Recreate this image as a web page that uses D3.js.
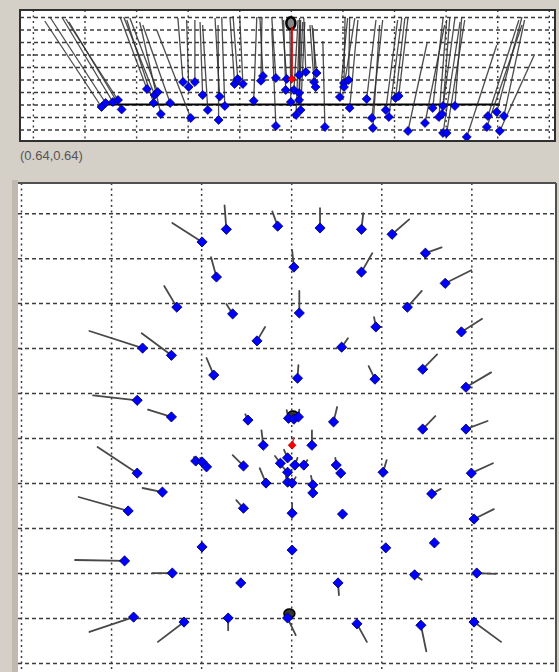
<!DOCTYPE html>
<html><head><meta charset="utf-8">
<script src="https://cdn.jsdelivr.net/npm/d3@7"></script>
<style>html,body{margin:0;padding:0;background:#d4d0c8;} svg{display:block;}</style>
</head><body><svg id="c" width="559" height="672"></svg>
<script>
// ---------- DATA ----------
// Main (plan) view: [x, y, dx, dy]  — point position and displacement vector (grid units)
const planVectors = [
 [-0.99,4.36,-0.33,0.42],[-0.72,4.64,-0.02,0.53],[-0.15,4.71,-0.06,0.33],[-0.83,3.58,-0.06,0.44],
 [-1.27,2.91,-0.14,0.47],[-0.65,2.76,-0.07,0.22],[-0.38,2.16,0.09,0.31],[0.32,4.67,0,0.44],
 [0.78,4.64,0.02,0.36],[1.12,4.53,0.19,0.33],[1.49,4.11,0.18,0.13],[0.03,3.80,-0.02,0.38],
 [0.78,3.69,0.12,0.42],[1.71,3.44,0.29,0.29],[0.09,2.78,0,0.49],[1.29,2.91,0.16,0.36],
 [0.94,2.47,-0.02,0.22],[1.89,2.36,0.23,0.29],[0.56,2.02,0.07,0.20],[-1.65,2.00,-0.59,0.38],
 [-1.33,1.84,-0.33,0.49],[-0.86,1.40,-0.08,0.38],[-1.71,0.84,-0.49,0.11],[-1.33,0.47,-0.26,0.16],
 [-0.48,0.40,-0.03,0.13],[-0.31,-0.16,-0.02,0.33],[-1.06,-0.51,-0.02,0.09],[-0.99,-0.53,-0.02,0.09],
 [-0.94,-0.64,-0.02,0.09],[-1.71,-0.78,-0.44,0.58],[-0.53,-0.62,-0.12,0.24],[-0.28,-1.00,-0.07,0.33],
 [-1.43,-1.20,-0.22,0.09],[-1.81,-1.62,-0.55,0.31],[-0.53,-1.56,-0.08,0.18],[-0.99,-2.42,0,0.04],
 [-1.85,-2.73,-0.55,0.02],[-1.32,-3.00,-0.22,0],[-0.56,-3.22,0,0.04],[-1.75,-3.98,-0.49,-0.33],
 [-1.19,-4.09,-0.29,-0.44],[-0.70,-4.00,0,-0.27],[0.01,-1.67,0,0.22],[0.57,-1.69,0,0.04],
 [2.03,-1.80,0.22,0.22],[0.01,-2.49,0,0.04],[1.05,-2.44,0.02,0.02],[1.59,-2.33,0.02,0],
 [0.52,-3.22,0.01,-0.27],[1.37,-3.04,0.08,-0.11],[2.06,-3.00,0.21,-0.02],[-0.04,-4.00,0.09,-0.38],
 [0.73,-4.13,0.11,-0.40],[1.44,-4.16,0.06,-0.58],[2.03,-4.09,0.30,-0.44],[0.07,1.33,0.01,0.29],
 [0.93,1.31,-0.07,0.29],[1.46,1.53,0.16,0.33],[1.94,1.13,0.28,0.33],[-0.03,0.44,-0.02,0.18],
 [0.03,0.42,-0.01,0.18],[0.08,0.47,0.01,0.16],[0.47,0.36,0.04,0.33],[1.46,0.20,0.14,0.29],
 [1.94,0.20,0.24,0.18],[0.23,-0.16,0,0.33],[-0.04,-0.44,-0.04,0.18],[-0.12,-0.56,-0.06,0.16],
 [0.04,-0.60,0.03,0.16],[0.14,-0.60,0.04,0.11],[-0.04,-0.76,-0.06,0.13],[-0.04,-0.98,-0.02,0.13],
 [0.01,-1.00,0.04,0.13],[0.50,-0.60,-0.01,0.16],[0.55,-0.78,0,0.04],[1.02,-0.76,0.04,0.27],
 [2.00,-0.78,0.24,0.22],[0.24,-1.04,-0.02,0.20],[0.24,-1.22,0,0.04],[1.56,-1.24,0.10,0.11]
];
const planReference = [[0.01,-0.16,0.02,0.18]];
const planMarks = [[0.02,0.5],[-0.02,-3.9]];

// Top (elevation) view: [x, y, x2, y2] — point and far end of its ray
const sideRays = [
 [-3.67,-0.2,-4.77,6.68],[-3.59,0.12,-4.67,7.0],[-3.45,0.2,-4.44,7.0],[-3.35,0.36,-4.36,6.84],[-3.28,-0.4,-4.30,6.6],
 [-2.79,1.24,-3.31,7.0],[-2.64,0.76,-3.24,7.0],[-2.58,1.0,-3.12,6.92],[-2.66,0.12,-3.18,6.76],[-2.34,0.12,-2.87,6.36],[-2.52,-0.76,-2.93,6.6],
 [-2.09,1.8,-2.19,6.92],[-1.98,1.4,-2.02,6.76],[-1.86,1.8,-1.86,6.76],[-1.71,0.76,-1.76,6.6],[-1.61,-0.44,-1.71,6.36],[-1.94,-1.08,-2.60,5.96],
 [-1.38,0.64,-1.47,6.92],[-1.28,-0.12,-1.34,7.0],[-1.40,-1.24,-1.41,6.36],[-1.09,1.64,-1.18,7.0],[-1.03,2.04,-1.12,7.08],[-0.93,1.64,-0.99,6.92],
 [-0.72,0.3,-0.66,7.0],[-0.54,2.28,-0.60,7.0],[-0.58,1.9,-0.56,7.0],[-0.29,2.12,-0.37,7.0],[-0.29,-1.72,-0.37,6.12],
 [-0.08,2.04,-0.17,6.92],[-0.1,1.16,-0.14,6.76],[0.06,1.16,0.14,6.76],[0.16,0.92,0.19,6.76],[0,0.2,-0.02,6.76],
 [0.16,0.36,0.23,6.6],[0.19,-0.44,0.27,6.6],[0.1,-0.84,0.17,6.36],[0.29,2.6,0.25,6.92],[0.16,2.36,0.17,6.92],
 [0.5,2.52,0.41,6.36],[0.45,1.8,0.37,6.36],[0.48,1.4,0.43,6.12],[0.66,-1.8,0.62,5.08],
 [1.03,1.72,1.05,7.0],[1.12,1.96,1.14,7.0],[1.03,1.4,1.24,6.92],[0.95,0.6,1.1,6.92],[1.14,-0.28,1.3,6.76],
 [1.47,0.44,1.65,6.76],[1.57,-1.08,1.78,6.76],[1.59,-1.88,1.72,6.36],
 [1.84,-0.44,2.07,6.76],[1.9,-1.0,2.15,6.92],[2.03,0.52,2.21,6.92],[2.09,0.68,2.27,6.92],[2.27,-2.12,2.64,4.92],
 [2.6,-1.48,2.98,6.36],[2.75,-0.28,2.95,6.92],[2.87,-1.0,3.02,6.76],[2.93,-0.76,3.18,6.92],[2.95,-0.12,3.08,6.92],
 [3.18,-0.12,3.31,6.92],[2.95,-2.28,3.28,6.6],[3.02,-2.28,3.37,6.76],[3.41,-2.6,3.99,4.76],
 [3.82,-0.92,4.42,6.76],[3.99,-0.6,4.48,7.0],[4.13,-0.92,4.53,6.76],[3.80,-1.8,4.48,6.36],[4.05,-2.12,4.71,3.88]
];
const sideReference = [[0.02,2.04,0.02,6.2]];
const sideMarks = [[0.0,6.5]];
const sideBaseline = [[-3.64,0],[4.05,0]];

const planXTicks = [-3,-2,-1,0,1,2];
const planYTicks = [-5,-4,-3,-2,-1,0,1,2,3,4,5];
const sideXTicks = [-5,-4,-3,-2,-1,0,1,2,3,4,5];
const sideYTicks = [-2,-1,0,1,2,3,4,5,6,7];
const cursorLabel = "(0.64,0.64)";

// ---------- DRAW ----------
const svg = d3.select("#c");
svg.append("rect").attr("width",559).attr("height",672).attr("fill","#d4d0c8");

const side = {x0:20, x1:555, y0:10, y1:141};
const plan = {x0:18, x1:556, y0:183, y1:672};

const xT = d3.scaleLinear().domain([-5.25,5.12]).range([20,555]);
const yT = d3.scaleLinear().domain([7.56,-2.92]).range([10,141]);
const xM = d3.scaleLinear().domain([-3,2.94]).range([21,556]);
const yM = d3.scaleLinear().domain([5.67,-5.2]).range([183,672]);

const defs = svg.append("defs");
defs.append("clipPath").attr("id","clipT").append("rect")
  .attr("x",side.x0).attr("y",side.y0).attr("width",side.x1-side.x0).attr("height",side.y1-side.y0);
defs.append("clipPath").attr("id","clipM").append("rect")
  .attr("x",plan.x0).attr("y",plan.y0).attr("width",plan.x1-plan.x0).attr("height",plan.y1-plan.y0);

svg.append("rect").attr("x",12).attr("y",180).attr("width",6).attr("height",492).attr("fill","#bfb9ae");

svg.append("rect").attr("x",side.x0).attr("y",side.y0).attr("width",side.x1-side.x0).attr("height",side.y1-side.y0).attr("fill","#fff");
svg.append("rect").attr("x",plan.x0).attr("y",plan.y0).attr("width",plan.x1-plan.x0).attr("height",plan.y1-plan.y0).attr("fill","#fff");

function grid(g, xs, ys, xTicks, yTicks, box, hDash, vDash, col, w){
  const gx = g.append("g").attr("transform",`translate(0,${box.y0})`)
    .call(d3.axisBottom(xs).tickValues(xTicks).tickSize(box.y1-box.y0).tickFormat(""));
  gx.select(".domain").remove();
  gx.selectAll("line").attr("stroke",col).attr("stroke-width",w).attr("stroke-dasharray",vDash);
  const gy = g.append("g").attr("transform",`translate(${box.x0},0)`)
    .call(d3.axisRight(ys).tickValues(yTicks).tickSize(box.x1-box.x0).tickFormat(""));
  gy.select(".domain").remove();
  gy.selectAll("line").attr("stroke",col).attr("stroke-width",w).attr("stroke-dasharray",hDash);
}

// ---- top panel
const gT = svg.append("g").attr("clip-path","url(#clipT)");
grid(gT, xT, yT, sideXTicks, sideYTicks, side, "4,3", "2,3.5", "#3c3c3c", 1.4);
gT.append("line").attr("x1",xT(sideBaseline[0][0])).attr("y1",yT(sideBaseline[0][1]))
  .attr("x2",xT(sideBaseline[1][0])).attr("y2",yT(sideBaseline[1][1]))
  .attr("stroke","#000").attr("stroke-width",2);
gT.selectAll("line.ray").data(sideRays).join("line").attr("class","ray")
  .attr("x1",d=>xT(d[0])).attr("y1",d=>yT(d[1])).attr("x2",d=>xT(d[2])).attr("y2",d=>yT(d[3]))
  .attr("stroke","#2e2e2e").attr("stroke-width",1.3).attr("stroke-opacity",0.85);
gT.selectAll("ellipse.mk").data(sideMarks).join("ellipse").attr("class","mk")
  .attr("cx",d=>xT(d[0])).attr("cy",d=>yT(d[1])).attr("rx",4.5).attr("ry",6)
  .attr("fill","#888").attr("stroke","#000").attr("stroke-width",2.5);
gT.selectAll("line.rref").data(sideReference).join("line").attr("class","rref")
  .attr("x1",d=>xT(d[0])).attr("y1",d=>yT(d[1])).attr("x2",d=>xT(d[2])).attr("y2",d=>yT(d[3]))
  .attr("stroke","#e00000").attr("stroke-width",2);
const diamondT = d3.symbol().type(d3.symbolSquare).size(40)();
gT.selectAll("path.pt").data(sideRays).join("path").attr("class","pt").attr("d",diamondT)
  .attr("transform",d=>`translate(${xT(d[0])},${yT(d[1])}) rotate(45)`)
  .attr("fill","#0000ff").attr("stroke","#000050").attr("stroke-width",0.7);
gT.selectAll("path.rp").data(sideReference).join("path").attr("class","rp").attr("d",d3.symbol().type(d3.symbolSquare).size(30)())
  .attr("transform",d=>`translate(${xT(d[0])},${yT(d[1])}) rotate(45)`)
  .attr("fill","#ff0000").attr("stroke","#900").attr("stroke-width",0.7);

svg.append("rect").attr("x",side.x0).attr("y",side.y0).attr("width",side.x1-side.x0).attr("height",side.y1-side.y0)
  .attr("fill","none").attr("stroke","#303030").attr("stroke-width",2);

svg.append("text").attr("x",20).attr("y",160).text(cursorLabel)
  .attr("font-family","Liberation Sans, Arial, sans-serif").attr("font-size",13).attr("fill","#555");

// ---- main panel
const gM = svg.append("g").attr("clip-path","url(#clipM)");
grid(gM, xM, yM, planXTicks, planYTicks, plan, "4,3", "2,3.5", "#3c3c3c", 1.5);
gM.selectAll("line.vec").data(planVectors).join("line").attr("class","vec")
  .attr("x1",d=>xM(d[0])).attr("y1",d=>yM(d[1])).attr("x2",d=>xM(d[0]+d[2])).attr("y2",d=>yM(d[1]+d[3]))
  .attr("stroke","#484848").attr("stroke-width",1.8).attr("stroke-linecap","round");
gM.selectAll("line.rvec").data(planReference).join("line").attr("class","rvec")
  .attr("x1",d=>xM(d[0])).attr("y1",d=>yM(d[1])).attr("x2",d=>xM(d[0]+d[2])).attr("y2",d=>yM(d[1]+d[3]))
  .attr("stroke","#e03030").attr("stroke-width",1.5);
gM.selectAll("ellipse.mk").data(planMarks).join("ellipse").attr("class","mk")
  .attr("cx",d=>xM(d[0])).attr("cy",d=>yM(d[1])).attr("rx",5.5).attr("ry",4.5)
  .attr("fill","#333").attr("stroke","#000").attr("stroke-width",1.5);
const diamondM = d3.symbol().type(d3.symbolSquare).size(52)();
gM.selectAll("path.pt").data(planVectors).join("path").attr("class","pt").attr("d",diamondM)
  .attr("transform",d=>`translate(${xM(d[0])},${yM(d[1])}) rotate(45)`)
  .attr("fill","#0000ff").attr("stroke","#000050").attr("stroke-width",0.8);
gM.selectAll("path.rp").data(planReference).join("path").attr("class","rp").attr("d",d3.symbol().type(d3.symbolSquare).size(30)())
  .attr("transform",d=>`translate(${xM(d[0])},${yM(d[1])}) rotate(45)`)
  .attr("fill","#ff0000").attr("stroke","#900").attr("stroke-width",0.7);

svg.append("line").attr("x1",plan.x0).attr("y1",plan.y0).attr("x2",plan.x1).attr("y2",plan.y0)
  .attr("stroke","#505050").attr("stroke-width",2);
svg.append("line").attr("x1",plan.x1).attr("y1",plan.y0).attr("x2",plan.x1).attr("y2",plan.y1)
  .attr("stroke","#505050").attr("stroke-width",2);
</script></body></html>
